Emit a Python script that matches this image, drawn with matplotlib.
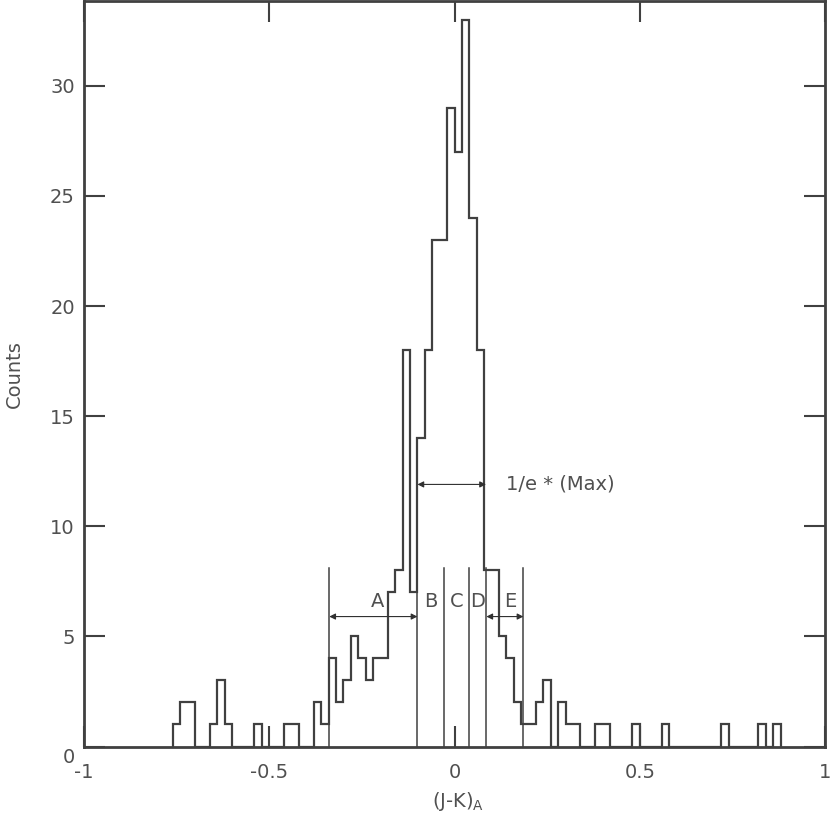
import matplotlib
matplotlib.use('Agg')
import matplotlib.pyplot as plt
import numpy as np

plt.rcParams['font.family'] = ['DejaVu Sans']
plt.rcParams['axes.unicode_minus'] = False

# ---- data ----
bin_start = -0.76
bin_width = 0.02
counts = [1, 2, 2, 0, 0, 1, 3, 1, 0, 0,
          0, 1, 0, 0, 0, 1, 1, 0, 0, 2,
          1, 4, 2, 3, 5, 4, 3, 4, 4, 7,
          8, 18, 7, 14, 18, 23, 23, 29, 27, 33,
          24, 18, 8, 8, 5, 4, 2, 1, 1, 2,
          3, 0, 2, 1, 1, 0, 0, 1, 1, 0,
          0, 0, 1, 0, 0, 0, 1, 0, 0, 0,
          0, 0, 0, 0, 1, 0, 0, 0, 0, 1,
          0, 1]

x_ticks = [-1, -0.5, 0, 0.5, 1]
x_tick_labels = ['-1', '-0.5', '0', '0.5', '1']
y_ticks = [0, 5, 10, 15, 20, 25, 30]
y_tick_labels = ['', '5', '10', '15', '20', '25', '30']

boundary_x = [-0.338, -0.100, -0.027, 0.038, 0.086, 0.186]
boundary_top = 8.1
region_labels = ['A', 'B', 'C', 'D', 'E']
region_label_x = [-0.208, -0.065, 0.007, 0.061, 0.151]
region_label_y = 6.6
region_arrows = [(-0.338, -0.100), (0.086, 0.186)]
region_arrow_y = 5.9
fwhm_span = (-0.100, 0.085)
fwhm_y = 11.9
fwhm_text = '1/e * (Max)'
fwhm_text_x = 0.138

LINE = '#404040'
TEXT = '#505050'

fig = plt.figure(figsize=(8.3, 8.21), dpi=100)
ax = fig.add_axes([84/830, 1 - 746.5/821, 741/830, 745.7/821])

edges = bin_start + bin_width * np.arange(len(counts) + 1)
ax.stairs(counts, edges, color=LINE, linewidth=1.6, baseline=0)

# region boundaries
for bx in boundary_x:
    ax.plot([bx, bx], [0, boundary_top], color=LINE, linewidth=1.1)

for lab, lx in zip(region_labels, region_label_x):
    ax.text(lx, region_label_y, lab, ha='center', va='center',
            fontsize=14, color=TEXT)

for (x0, x1) in region_arrows:
    ax.annotate('', xy=(x0, region_arrow_y), xytext=(x1, region_arrow_y),
                arrowprops=dict(arrowstyle='<|-|>', color='#303030', lw=0.8,
                                mutation_scale=9, shrinkA=0, shrinkB=0))

ax.annotate('', xy=(fwhm_span[0], fwhm_y), xytext=(fwhm_span[1], fwhm_y),
            arrowprops=dict(arrowstyle='<|-|>', color='#303030', lw=0.8,
                            mutation_scale=9, shrinkA=0, shrinkB=0))
ax.text(fwhm_text_x, fwhm_y, fwhm_text, ha='left', va='center',
        fontsize=14, color=TEXT)

ax.set_xlim(-1, 1)
ax.set_ylim(0, 33.86)
ax.set_xticks(x_ticks)
ax.set_xticklabels(x_tick_labels)
ax.set_yticks(y_ticks)
ax.set_yticklabels(y_tick_labels)
ax.tick_params(direction='in', length=15, width=1.5, color=LINE,
               top=True, right=True, labelsize=14, labelcolor=TEXT)
ax.tick_params(axis='x', pad=12)
ax.tick_params(axis='y', pad=6.5)

# zero label on the y axis sits a little lower in the original
ax.annotate('0', xy=(0, 0), xycoords=('axes fraction', 'data'),
            xytext=(-9, -11), textcoords='offset pixels',
            ha='right', va='center', fontsize=14, color=TEXT)

for s in ax.spines.values():
    s.set_linewidth(2.0)
    s.set_color(LINE)

ax.set_ylabel('Counts', fontsize=14, color=TEXT)
ax.yaxis.set_label_coords(-0.081, 0.5)
ax.set_xlabel('(J-K)$_{\\rm A}$', fontsize=14, color=TEXT)
ax.xaxis.set_label_coords(0.505, -0.059)

fig.savefig('out.png', dpi=100)
